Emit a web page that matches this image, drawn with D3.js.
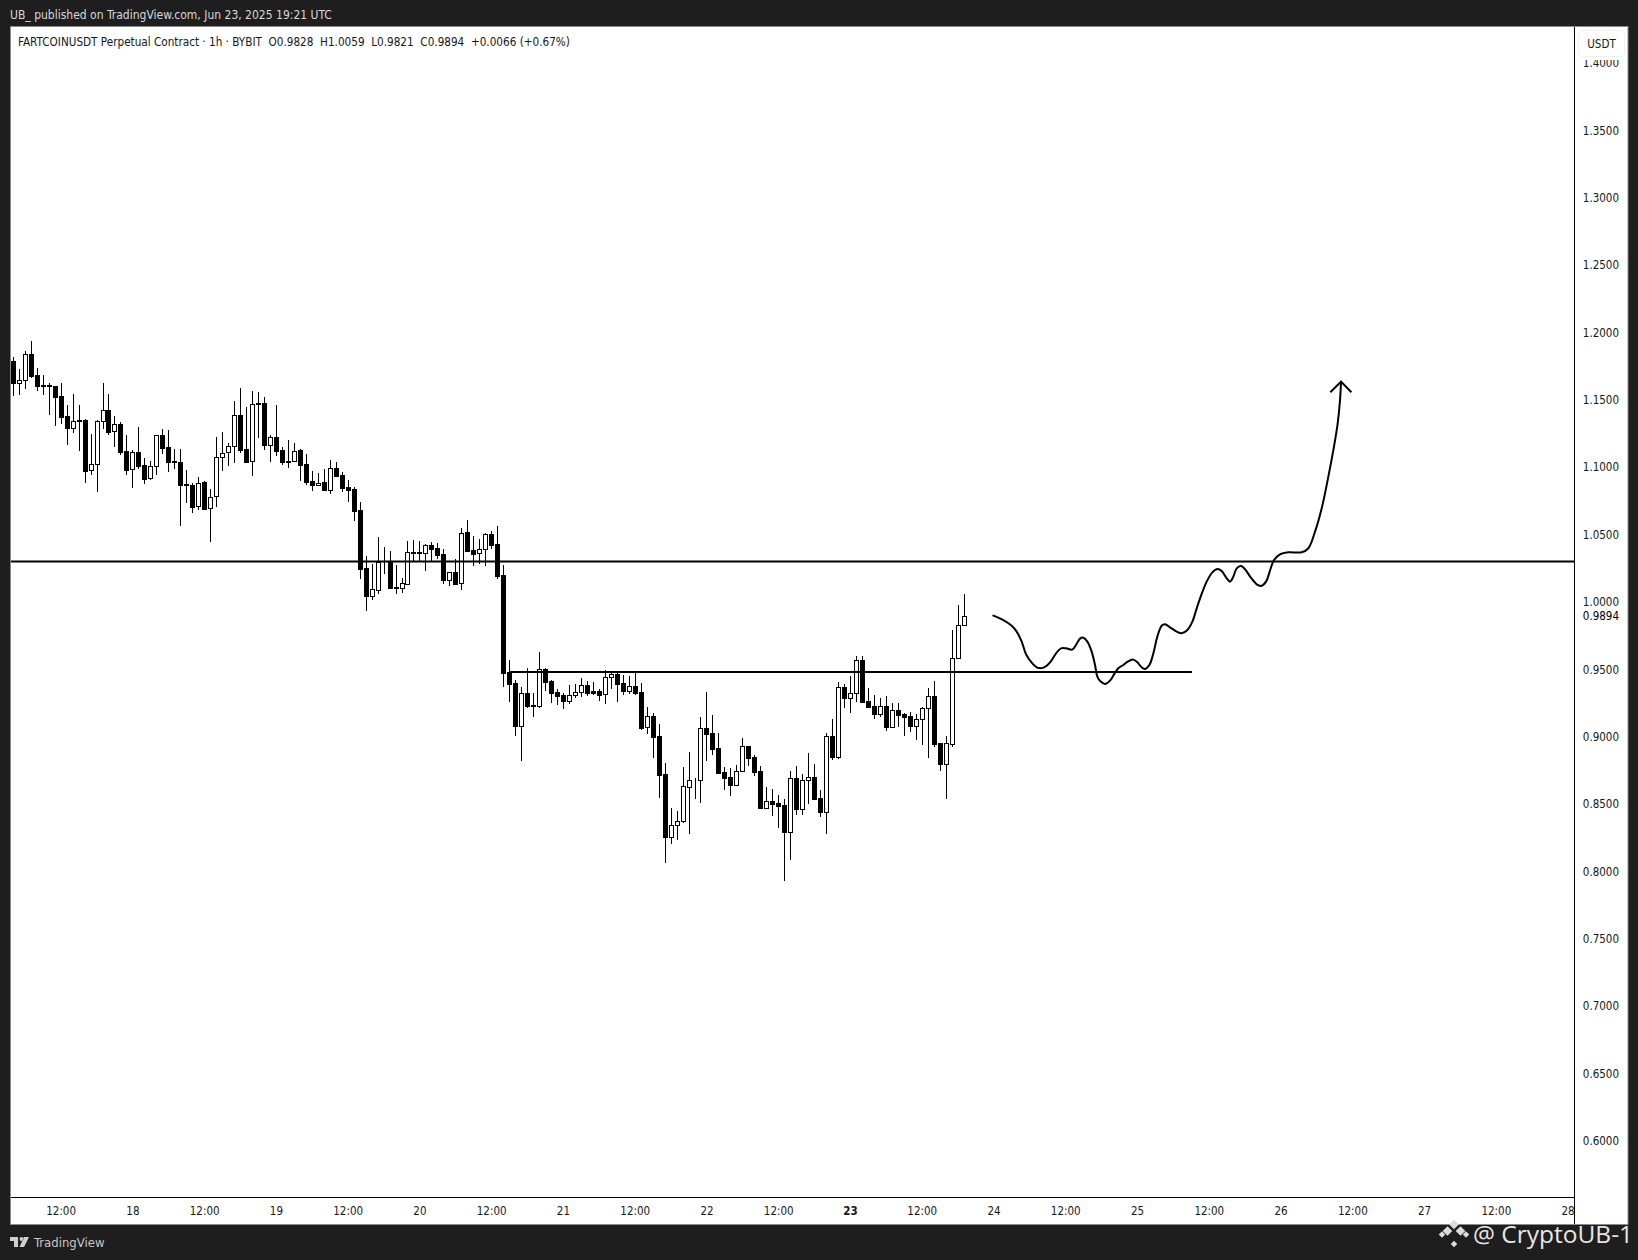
<!DOCTYPE html>
<html><head><meta charset="utf-8">
<script src="https://cdn.jsdelivr.net/npm/d3@7/dist/d3.min.js"></script>
<style>html,body{margin:0;padding:0;background:#1e1e1e}svg{display:block}text{font-family:"DejaVu Sans",sans-serif;font-stretch:condensed}.wm{font-family:"Open Sans",sans-serif;font-stretch:normal}</style>
</head><body><svg id="c" width="1638" height="1260"></svg>
<script>
const headerText = "UB_ published on TradingView.com, Jun 23, 2025 19:21 UTC";
const titleText = "FARTCOINUSDT Perpetual Contract · 1h · BYBIT  O0.9828  H1.0059  L0.9821  C0.9894  +0.0066 (+0.67%)";
const opens = [1.1787,1.1629,1.1646,1.1839,1.1683,1.1609,1.1609,1.1601,1.1527,1.1379,1.1295,1.1349,1.1349,1.0978,1.1022,1.1342,1.1423,1.1267,1.1319,1.1119,1.0985,1.1111,1.1015,1.0918,1.1007,1.1238,1.1149,1.1045,1.1037,1.0874,1.0866,1.0710,1.0889,1.0696,1.0785,1.1074,1.1111,1.1156,1.1386,1.1134,1.1045,1.1475,
1.1475,1.1168,1.1223,1.1126,1.1050,1.1050,1.1126,1.1022,1.0896,1.0871,1.0889,1.0834,1.0993,1.0941,1.0852,1.0837,1.0681,1.0250,1.0047,1.0092,1.0297,1.0300,1.0109,1.0107,1.0136,1.0366,1.0366,1.0366,1.0423,1.0399,1.0354,1.0166,1.0220,1.0139,1.0517,1.0384,1.0361,1.0391,1.0503,1.0428,
1.0201,0.9480,0.9396,0.9082,0.9322,0.9233,0.9230,0.9500,0.9411,0.9329,0.9307,0.9268,0.9307,0.9329,0.9381,0.9337,0.9337,0.9315,0.9441,0.9463,0.9396,0.9342,0.9374,0.9329,0.9070,0.9151,0.9003,0.8721,0.8258,0.8342,0.8372,0.8629,0.8676,0.8676,0.9062,0.9025,0.8914,0.8735,0.8698,0.8644,0.8748,
0.8928,0.8849,0.8742,0.8473,0.8520,0.8505,0.8490,0.8294,0.8690,0.8465,0.8676,0.8698,0.8542,0.8443,0.9002,0.8851,0.9366,0.9289,0.9321,0.9567,0.9262,0.9225,0.9171,0.9225,0.9074,0.9195,0.9166,0.9153,0.9081,0.9128,0.9210,0.9299,0.8950,0.8799,0.8948,0.9581,0.9828];
const highs = [1.1819,1.1728,1.1861,1.1938,1.1735,1.1686,1.1624,1.1604,1.1624,1.1463,1.1542,1.1463,1.1356,1.1248,1.1351,1.1624,1.1545,1.1379,1.1334,1.1240,1.1126,1.1297,1.1069,1.1047,1.1240,1.1285,1.1277,1.1136,1.1134,1.0980,1.0881,1.0926,1.0896,1.0839,1.1225,1.1262,1.1178,1.1493,1.1587,1.1448,1.1567,1.1559,
1.1520,1.1240,1.1463,1.1149,1.1201,1.1181,1.1134,1.1097,1.0973,1.0955,1.0988,1.1052,1.1040,1.0963,1.0906,1.0852,1.0743,1.0342,1.0282,1.0483,1.0409,1.0379,1.0275,1.0178,1.0453,1.0460,1.0453,1.0428,1.0443,1.0436,1.0394,1.0225,1.0319,1.0547,1.0607,1.0490,1.0465,1.0510,1.0527,1.0564,
1.0275,0.9569,0.9419,0.9369,0.9510,0.9322,0.9626,0.9508,0.9419,0.9352,0.9322,0.9384,0.9391,0.9436,0.9414,0.9406,0.9352,0.9493,0.9475,0.9475,0.9456,0.9451,0.9475,0.9396,0.9221,0.9173,0.9094,0.8802,0.8471,0.8448,0.8775,0.8886,0.8691,0.9144,0.9332,0.9161,0.9027,0.8775,0.8765,0.8790,0.8990,
0.8930,0.8861,0.8782,0.8626,0.8611,0.8567,0.8537,0.8745,0.8782,0.8723,0.8878,0.8797,0.8604,0.9024,0.9131,0.9403,0.9391,0.9450,0.9599,0.9599,0.9361,0.9309,0.9287,0.9302,0.9250,0.9250,0.9173,0.9183,0.9168,0.9222,0.9361,0.9413,0.8953,0.9005,0.9792,0.9977,1.0059];
const lows = [1.1530,1.1540,1.1584,1.1663,1.1569,1.1540,1.1389,1.1307,1.1322,1.1166,1.1255,1.1124,1.0886,1.0943,1.0819,1.1287,1.1243,1.1153,1.1089,1.0946,1.0849,1.0990,1.0879,1.0906,1.0943,1.1099,1.0965,1.0990,1.0567,1.0738,1.0663,1.0683,1.0683,1.0448,1.0708,1.0973,1.1012,1.1035,1.1106,1.1035,1.0938,1.1220,
1.1129,1.1040,1.1084,1.1017,1.0995,1.1040,1.0899,1.0869,1.0824,1.0861,1.0832,1.0802,1.0928,1.0817,1.0743,1.0604,1.0171,0.9936,1.0015,1.0060,1.0211,1.0097,1.0062,1.0067,1.0129,1.0297,1.0297,1.0230,1.0297,1.0319,1.0134,1.0119,1.0134,1.0089,1.0369,1.0267,1.0285,1.0270,1.0396,1.0171,
0.9371,0.9260,0.9008,0.8822,0.9216,0.9149,0.9216,0.9342,0.9253,0.9238,0.9208,0.9245,0.9290,0.9297,0.9305,0.9312,0.9268,0.9245,0.9357,0.9260,0.9312,0.9320,0.9312,0.9052,0.9023,0.8844,0.8547,0.8065,0.8206,0.8233,0.8357,0.8280,0.8540,0.8510,0.8822,0.8867,0.8726,0.8607,0.8562,0.8644,0.8738,
0.8782,0.8710,0.8470,0.8473,0.8411,0.8324,0.7931,0.8086,0.8418,0.8418,0.8500,0.8529,0.8403,0.8277,0.8826,0.8836,0.9213,0.9175,0.9257,0.9257,0.9220,0.9131,0.9148,0.9042,0.9067,0.9072,0.9005,0.9034,0.8975,0.8938,0.8841,0.8925,0.8747,0.8537,0.8925,0.9581,0.9821];
const closes = [1.1629,1.1646,1.1839,1.1681,1.1606,1.1606,1.1606,1.1525,1.1376,1.1295,1.1342,1.1342,1.0975,1.1022,1.1342,1.1423,1.1265,1.1319,1.1116,1.0983,1.1111,1.1012,1.0916,1.1007,1.1238,1.1146,1.1042,1.1042,1.0871,1.0866,1.0708,1.0886,1.0691,1.0782,1.1074,1.1109,1.1156,1.1386,1.1131,1.1040,1.1468,1.1468,
1.1168,1.1223,1.1124,1.1042,1.1042,1.1124,1.1020,1.0894,1.0871,1.0886,1.0834,1.0993,1.0936,1.0849,1.0832,1.0678,1.0248,1.0047,1.0094,1.0300,1.0300,1.0104,1.0107,1.0139,1.0369,1.0369,1.0369,1.0421,1.0396,1.0352,1.0166,1.0220,1.0136,1.0515,1.0379,1.0359,1.0391,1.0503,1.0426,1.0196,
0.9475,0.9394,0.9082,0.9322,0.9230,0.9230,0.9500,0.9409,0.9327,0.9305,0.9268,0.9307,0.9329,0.9381,0.9327,0.9327,0.9312,0.9441,0.9463,0.9394,0.9342,0.9374,0.9327,0.9067,0.9151,0.9000,0.8718,0.8258,0.8342,0.8372,0.8631,0.8676,0.8678,0.9062,0.9023,0.8911,0.8733,0.8696,0.8644,0.8748,0.8928,
0.8844,0.8740,0.8473,0.8520,0.8502,0.8487,0.8294,0.8690,0.8465,0.8676,0.8698,0.8537,0.8443,0.9002,0.8851,0.9366,0.9289,0.9321,0.9567,0.9260,0.9222,0.9168,0.9225,0.9074,0.9195,0.9161,0.9148,0.9081,0.9128,0.9210,0.9299,0.8948,0.8799,0.8950,0.9581,0.9826,0.9894];
const priceTicks = [0.60,0.65,0.70,0.75,0.80,0.85,0.90,0.95,1.00,1.05,1.10,1.15,1.20,1.25,1.30,1.35,1.40];
const lastPrice = 0.9894;
const timeTickBars = [8,20,32,44,56,68,80,92,104,116,128,140,152,164,176,188,200,212,224,236,248,260];
const timeTickLabels = ["12:00","18","12:00","19","12:00","20","12:00","21","12:00","22","12:00","23","12:00","24","12:00","25","12:00","26","12:00","27","12:00","28"];
const boldTimeLabels = ["23"];
const upperLevel = {price:1.03};
const lowerLevel = {price:0.948, fromBar:82.9, toBar:197.1};
const pathBars = [163.89,165.56,166.96,167.79,168.63,169.35,170.30,171.14,171.80,172.53,173.48,174.37,175.21,176.04,177.10,177.71,178.38,178.94,179.61,180.33,180.89,181.28,181.84,182.56,183.40,184.12,184.79,185.63,186.35,187.30,187.97,188.69,189.25,189.98,190.65,191.31,192.04,192.60,193.43,194.55,195.38,196.33,197.17,197.89,198.56,199.56,200.51,201.40,202.07,202.91,203.47,204.02,204.58,205.31,205.97,206.92,207.93,208.65,209.49,210.15,210.82,211.83,213.22,215.45,216.57,217.68,218.80,219.91,220.75,221.47,221.86,222.03];
const pathPrices = [0.9899,0.9866,0.9824,0.9780,0.9706,0.9612,0.9550,0.9515,0.9508,0.9518,0.9557,0.9619,0.9656,0.9656,0.9646,0.9681,0.9728,0.9735,0.9706,0.9631,0.9532,0.9446,0.9409,0.9391,0.9416,0.9466,0.9508,0.9532,0.9557,0.9572,0.9552,0.9515,0.9503,0.9532,0.9619,0.9743,0.9824,0.9834,0.9812,0.9780,0.9767,0.9792,0.9854,0.9953,1.0040,1.0151,1.0220,1.0245,1.0230,1.0176,1.0151,1.0188,1.0250,1.0267,1.0243,1.0183,1.0131,1.0119,1.0151,1.0233,1.0312,1.0354,1.0369,1.0369,1.0399,1.0522,1.0696,1.0931,1.1129,1.1327,1.1500,1.1636];
const arrowBars = [220.24,222.03,223.76];
const arrowPrices = [1.1557,1.1636,1.1557];

const L=11,R=1574.5,FR=1627.5,T=27,B=1197,FB=1224;
const svg=d3.select("#c");
svg.append("rect").attr("width",1638).attr("height",1260).attr("fill","#1e1e1e");
svg.append("rect").attr("x",L-0.5).attr("y",T-0.5).attr("width",FR-L+1).attr("height",FB-T+1).attr("fill","#fff").attr("stroke","#8a8a8a").attr("stroke-width",1);

const x=d3.scaleLinear().domain([0,159]).range([13.3,13.3+5.98*159]);
const y=d3.scaleLinear().domain([1.35,0.60]).range([130.6,1140.7]);

svg.append("defs").append("clipPath").attr("id","plot").append("rect").attr("x",L).attr("y",T).attr("width",R-L).attr("height",B-T);
const plot=svg.append("g").attr("clip-path","url(#plot)");

const idx=d3.range(opens.length);
const px=i=>Math.floor(x(i))+0.5;
plot.append("g").selectAll("line").data(idx).join("line")
 .attr("x1",px).attr("x2",px)
 .attr("y1",i=>y(highs[i])).attr("y2",i=>y(lows[i]))
 .attr("stroke","#000").attr("stroke-width",1).attr("shape-rendering","crispEdges");
plot.append("g").selectAll("rect").data(idx).join("rect")
 .attr("x",i=>px(i)-2).attr("width",4)
 .attr("y",i=>Math.round(y(Math.max(opens[i],closes[i])))+0.5)
 .attr("height",i=>Math.max(0,Math.round(y(Math.min(opens[i],closes[i])))-Math.round(y(Math.max(opens[i],closes[i])))))
 .attr("fill",i=>closes[i]>=opens[i]?"#fff":"#000")
 .attr("stroke","#000").attr("stroke-width",1).attr("shape-rendering","crispEdges");

plot.append("line").attr("x1",L).attr("x2",R).attr("y1",y(upperLevel.price)).attr("y2",y(upperLevel.price)).attr("stroke","#000").attr("stroke-width",2);
plot.append("line").attr("x1",x(lowerLevel.fromBar)).attr("x2",x(lowerLevel.toBar)).attr("y1",y(lowerLevel.price)).attr("y2",y(lowerLevel.price)).attr("stroke","#000").attr("stroke-width",2);

const ln=d3.line().x(d=>x(d[0])).y(d=>y(d[1]));
plot.append("path").attr("d",ln.curve(d3.curveCatmullRom)(pathBars.map((b,i)=>[b,pathPrices[i]]))).attr("fill","none").attr("stroke","#000").attr("stroke-width",2).attr("stroke-linecap","round");
plot.append("path").attr("d",d3.line().x(d=>x(d[0])).y(d=>y(d[1]))(arrowBars.map((b,i)=>[b,arrowPrices[i]]))).attr("fill","none").attr("stroke","#000").attr("stroke-width",2);

svg.append("line").attr("x1",R).attr("x2",R).attr("y1",T).attr("y2",FB).attr("stroke","#000").attr("stroke-width",1);
svg.append("line").attr("x1",L).attr("x2",R).attr("y1",B+0.5).attr("y2",B+0.5).attr("stroke","#000").attr("stroke-width",1);

const fs=11.5;
const yAxis=d3.axisRight(y).tickValues(priceTicks).tickFormat(d3.format(".4f")).tickSize(0).tickPadding(0);
const ya=svg.append("g").attr("transform",`translate(${1619},0)`).call(yAxis);
ya.select(".domain").remove();
ya.selectAll("text").attr("text-anchor","end").attr("font-size",fs).attr("fill","#131722").style("font-family",'"DejaVu Sans",sans-serif').style("font-stretch","condensed");
svg.append("text").attr("x",1619).attr("y",y(lastPrice)+4).attr("text-anchor","end").attr("font-size",fs).attr("fill","#000").text(d3.format(".4f")(lastPrice));

// USDT badge hides the top of the 1.4000 label, as in the reference
svg.append("rect").attr("x",1576).attr("y",28).attr("width",51).attr("height",32).attr("fill","#fff");
svg.append("rect").attr("x",1578.5).attr("y",30.5).attr("width",46).attr("height",26).attr("rx",4).attr("fill","#fff").attr("stroke","#e0e0e0").attr("stroke-dasharray","1 1");
svg.append("text").attr("x",1601.5).attr("y",48).attr("text-anchor","middle").attr("font-size",fs).attr("fill","#131722").text("USDT");

svg.append("defs").append("clipPath").attr("id","tclip").append("rect").attr("x",L).attr("y",B).attr("width",R-L).attr("height",FB-B);
svg.append("g").attr("clip-path","url(#tclip)").selectAll("text").data(timeTickBars).join("text")
 .attr("x",d=>x(d)).attr("y",1215).attr("text-anchor","middle").attr("font-size",fs).attr("fill","#131722")
 .attr("font-weight",(d,i)=>boldTimeLabels.includes(timeTickLabels[i])?700:400)
 .text((d,i)=>timeTickLabels[i]);

svg.append("text").attr("x",10).attr("y",19).attr("font-size",12).attr("fill","#d8d8d8").text(headerText);
svg.append("text").attr("x",18).attr("y",46).attr("font-size",11.65).attr("fill","#131722").style("white-space","pre").text(titleText);

svg.append("path").attr("transform","translate(10,1237)").attr("d","M0 0H8V10H4V4H0Z M9.5 2a2 2 0 1 0 4 0a2 2 0 1 0 -4 0Z M14 0H19L14 10H9.5Z").attr("fill","#d0d0d0");
svg.append("text").attr("x",34).attr("y",1247).attr("font-size",13).attr("fill","#c8c8c8").text("TradingView");
[[0,-9.5],[-6.5,-3],[6.5,-3],[0,3.5],[-12,0.5],[12,0.5],[0,10]].forEach(([dx,dy],k)=>{
  const s=k<4?3.4:2.3;
  svg.append("rect").attr("x",-s).attr("y",-s).attr("width",2*s).attr("height",2*s).attr("transform",`translate(${1454+dx},${1234+dy}) rotate(45)`).attr("fill",k==3?"#1e1e1e":"#dcdcdc");
});
svg.append("text").attr("class","wm").attr("x",1473).attr("y",1243).attr("font-size",24.5).attr("fill","#e6e6e6").text("@ CryptoUB-1");
</script></body></html>
